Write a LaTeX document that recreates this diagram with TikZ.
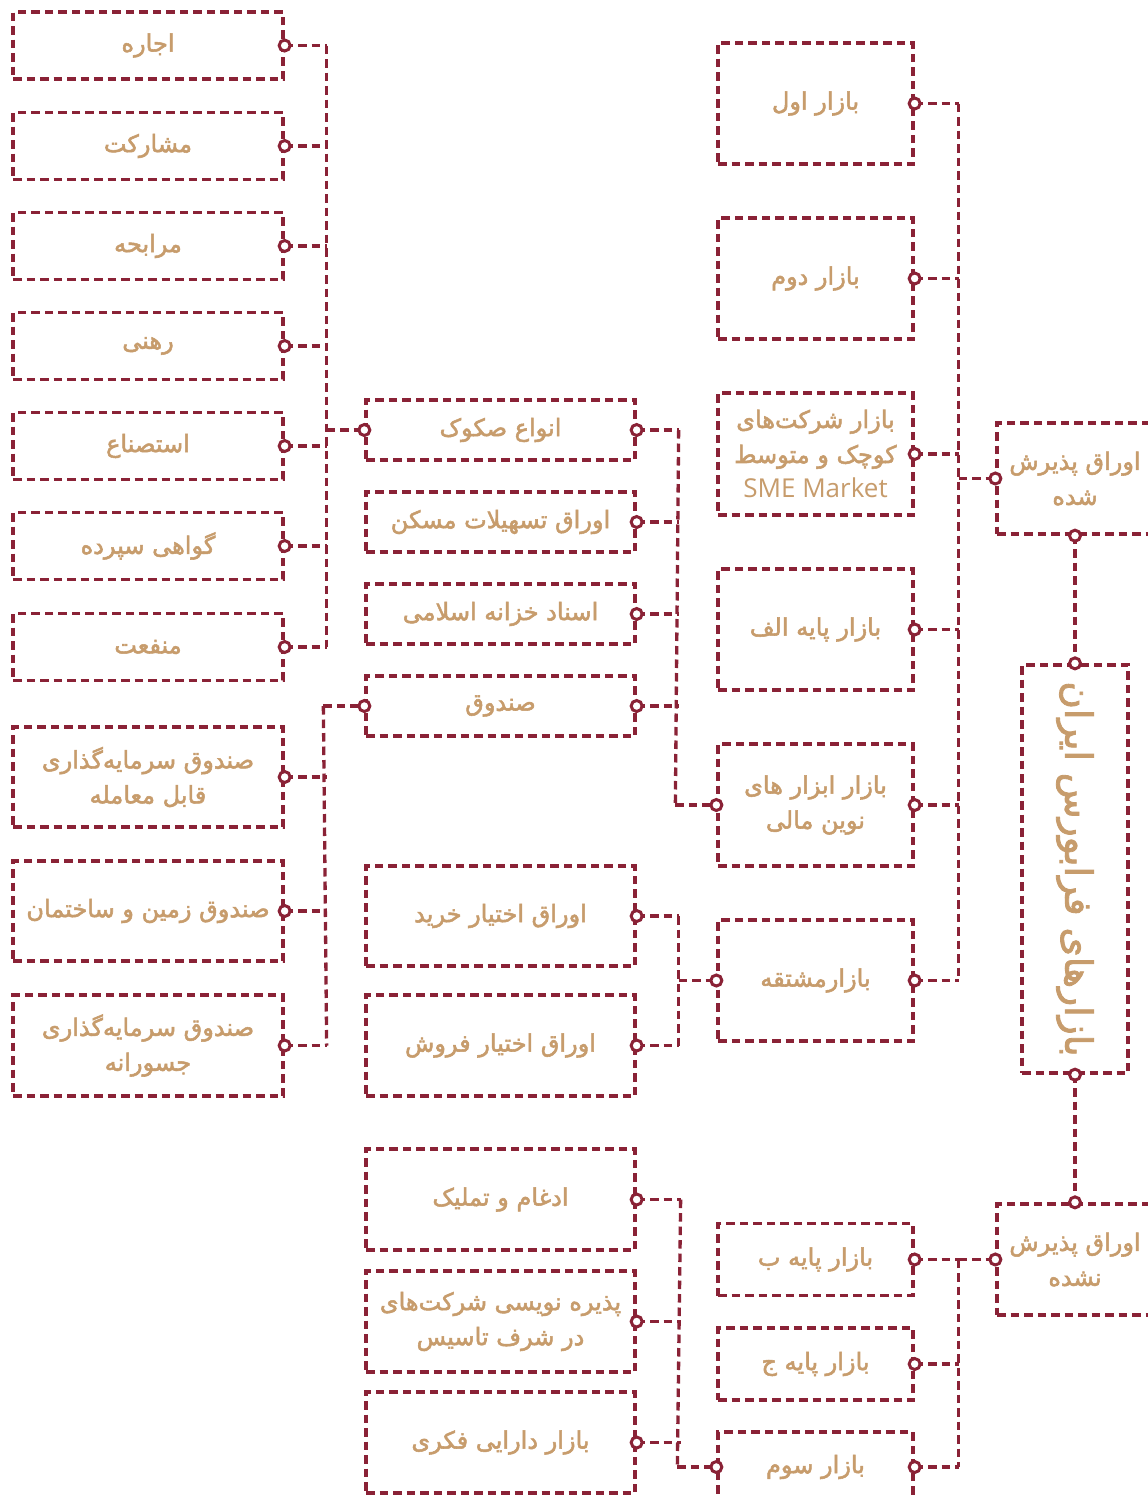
\documentclass[tikz,border=0pt]{standalone}
\usepackage{fontspec}
\usetikzlibrary{calc}
\TeXXeTstate=1
\newfontfamily\fab[Script=Arabic,FakeBold=2.2]{DejaVu Sans}
\newfontfamily\lat{Open Sans}
\definecolor{mar}{HTML}{8A2236}
\definecolor{tanc}{HTML}{C79C6C}
\newcommand{\RL}[1]{\beginR #1\endR}
\tikzset{
  box/.style={draw=mar, line width=3.3pt, dash pattern=on 8.5pt off 5pt, rectangle,
    text=tanc, font=\fab\fontsize{24}{35}\selectfont, align=center, inner sep=0pt},
  conn/.style={draw=mar, line width=3.3pt, dash pattern=on 8.5pt off 5pt},
  dotc/.style={draw=mar, fill=white, line width=3pt}
}
\begin{document}
\begin{tikzpicture}[x=1pt,y=-1pt]
\useasboundingbox (0,0) rectangle (1148,1497);
\clip (0,0) rectangle (1148,1497);
\fill[white] (0,0) rectangle (1148,1497);
% column 1
\node[box, minimum width=270pt, minimum height=67pt] (a1) at (148,45.5) {\RL{اجاره}};
\node[box, minimum width=270pt, minimum height=67pt] (a2) at (148,146) {\RL{مشارکت}};
\node[box, minimum width=270pt, minimum height=67pt] (a3) at (148,246) {\RL{مرابحه}};
\node[box, minimum width=270pt, minimum height=67pt] (a4) at (148,346) {\RL{رهنی}};
\node[box, minimum width=270pt, minimum height=67pt] (a5) at (148,446) {\RL{استصناع}};
\node[box, minimum width=270pt, minimum height=67pt] (a6) at (148,546) {\RL{گواهی سپرده}};
\node[box, minimum width=270pt, minimum height=67pt] (a7) at (148,647) {\RL{منفعت}};
\node[box, minimum width=270pt, minimum height=100pt] (a8) at (148,777) {\RL{صندوق سرمایه^^^^200cگذاری}\\\RL{قابل معامله}};
\node[box, minimum width=270pt, minimum height=100pt] (a9) at (148,911) {\RL{صندوق زمین و ساختمان}};
\node[box, minimum width=270pt, minimum height=101pt] (a10) at (148,1045.5) {\RL{صندوق سرمایه^^^^200cگذاری}\\\RL{جسورانه}};
% column 2
\node[box, minimum width=269pt, minimum height=60pt] (sukuk) at (500.5,430) {\RL{انواع صکوک}};
\node[box, minimum width=269pt, minimum height=60pt] (maskan) at (500.5,522) {\RL{اوراق تسهیلات مسکن}};
\node[box, minimum width=269pt, minimum height=60pt] (khazane) at (500.5,614) {\RL{اسناد خزانه اسلامی}};
\node[box, minimum width=269pt, minimum height=60pt] (sandogh) at (500.5,706) {\RL{صندوق}};
\node[box, minimum width=269pt, minimum height=100pt] (kharid) at (500.5,916) {\RL{اوراق اختیار خرید}};
\node[box, minimum width=269pt, minimum height=101pt] (forush) at (500.5,1045.5) {\RL{اوراق اختیار فروش}};
\node[box, minimum width=269pt, minimum height=101pt] (edgham) at (500.5,1199.5) {\RL{ادغام و تملیک}};
\node[box, minimum width=269pt, minimum height=101pt] (pazire) at (500.5,1321.5) {\RL{پذیره نویسی شرکت^^^^200cهای}\\\RL{در شرف تاسیس}};
\node[box, minimum width=269pt, minimum height=101pt] (fekri) at (500.5,1442.5) {\RL{بازار دارایی فکری}};
% column 3
\node[box, minimum width=195pt, minimum height=121pt] (aval) at (815.5,103.5) {\RL{بازار اول}};
\node[box, minimum width=195pt, minimum height=121pt] (dovom) at (815.5,278.5) {\RL{بازار دوم}};
\node[box, minimum width=195pt, minimum height=122pt] (sme) at (815.5,454) {\RL{بازار شرکت^^^^200cهای}\\\RL{کوچک و متوسط}\\{\lat\fontsize{26}{35}\selectfont SME Market}};
\node[box, minimum width=195pt, minimum height=121pt] (alef) at (815.5,629.5) {\RL{بازار پایه الف}};
\node[box, minimum width=195pt, minimum height=122pt] (novin) at (815.5,805) {\RL{بازار ابزار های}\\\RL{نوین مالی}};
\node[box, minimum width=195pt, minimum height=121pt] (moshtaghe) at (815.5,980.5) {\RL{بازارمشتقه}};
\node[box, minimum width=195pt, minimum height=72pt] (payeb) at (815.5,1259.5) {\RL{بازار پایه ب}};
\node[box, minimum width=195pt, minimum height=72pt] (payej) at (815.5,1364) {\RL{بازار پایه ج}};
\node[box, minimum width=195pt, minimum height=70pt] (sevom) at (815.5,1467) {\RL{بازار سوم}};
% right
\node[box, minimum width=156pt, minimum height=111pt] (accepted) at (1075,478.5) {\RL{اوراق پذیرش}\\\RL{شده}};
\node[box, minimum width=156pt, minimum height=111pt] (notacc) at (1075,1259.5) {\RL{اوراق پذیرش}\\\RL{نشده}};
\node[box, minimum width=106pt, minimum height=408pt] (main) at (1075,869) {};
\node[text=tanc, font=\fab\fontsize{37.5}{40}\selectfont, rotate=-90] (maintext) at (main.center) {\RL{بازارهای فرابورس ایران}};
% bus coordinates
\coordinate (bAt) at ($(a1.east)+(42,0)$);
\coordinate (bAb) at ($(a7.east)+(42,0)$);
\coordinate (bBt) at ($(sandogh.west)+(-41,0)$);
\coordinate (bBb) at ($(a10.east)+(42,0)$);
\coordinate (bCt) at ($(sukuk.east)+(42,0)$);
\coordinate (bCb) at ($(novin.west)+(-41,0)$);
\coordinate (bDt) at ($(kharid.east)+(42,0)$);
\coordinate (bDb) at ($(forush.east)+(42,0)$);
\coordinate (bEt) at ($(edgham.east)+(44,0)$);
\coordinate (bEb) at ($(sevom.west)+(-39,0)$);
\coordinate (bFt) at ($(aval.east)+(44,0)$);
\coordinate (bFb) at ($(moshtaghe.east)+(44,0)$);
\coordinate (bGt) at ($(payeb.east)+(44,0)$);
\coordinate (bGb) at ($(sevom.east)+(44,0)$);
% buses
\draw[conn] (bAt) -- (bAb);
\draw[conn] (bBt) -- (bBb);
\draw[conn] (bCt) -- (bCb);
\draw[conn] (bDt) -- (bDb);
\draw[conn] (bEt) -- (bEb);
\draw[conn] (bFt) -- (bFb);
\draw[conn] (bGt) -- (bGb);
% connectors to parents
\draw[conn] (bAt |- sukuk.west) -- (sukuk.west);
\draw[conn] (bBt) -- (sandogh.west);
\draw[conn] (bCb) -- (novin.west);
\draw[conn] (bDt |- moshtaghe.west) -- (moshtaghe.west);
\draw[conn] (bEb) -- (sevom.west);
\draw[conn] (bFt |- accepted.west) -- (accepted.west);
\draw[conn] (bGt) -- (notacc.west);
% stubs
\foreach \c in {a1,a2,a3,a4,a5,a6,a7,a8,a9,a10,sukuk,maskan,khazane,sandogh,kharid,forush} \draw[conn] (\c.east) -- ++(42,0);
\foreach \c in {edgham,pazire,fekri,aval,dovom,sme,alef,novin,moshtaghe,payeb,payej,sevom} \draw[conn] (\c.east) -- ++(44,0);
\draw[conn] (accepted.south) -- (main.north);
\draw[conn] (main.south) -- (notacc.north);
% circles
\foreach \c in {a1,a2,a3,a4,a5,a6,a7,a8,a9,a10,sukuk,maskan,khazane,sandogh,kharid,forush,edgham,pazire,fekri,aval,dovom,sme,alef,novin,moshtaghe,payeb,payej,sevom}
  \draw[dotc] (\c.east) circle (5.5);
\foreach \c in {sukuk,sandogh,novin,moshtaghe,sevom,accepted,notacc}
  \draw[dotc] (\c.west) circle (5.5);
\foreach \c in {accepted.south,main.north,main.south,notacc.north}
  \draw[dotc] (\c) circle (5.5);
\end{tikzpicture}
\end{document}
